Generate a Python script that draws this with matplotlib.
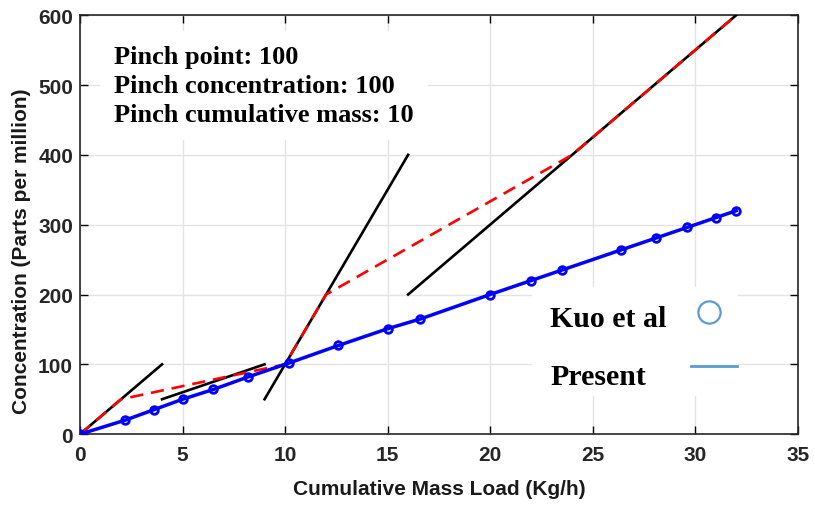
import numpy as np
import matplotlib.pyplot as plt
from matplotlib.patches import Rectangle

# Present / Kuo et al points (cumulative mass vs concentration)
mass_pts = [0, 2.2, 3.6, 5.0, 6.5, 8.2, 10.2, 12.6, 15.0, 16.6, 20.0, 22.0, 23.5, 26.4, 28.1, 29.6, 31.0, 32.0]
conc_pts = [0, 20, 35, 50, 64, 82, 102, 127, 151, 165, 200, 220, 235, 264, 281, 296, 310, 320]

# black supply/demand line segments: (x0, x1), (y0, y1)
seg_x = [(0, 4), (4, 9), (9, 16), (16, 32)]
seg_y = [(0, 100), (50, 100), (50, 400), (200, 600)]

# red dashed composite curve
comp_x = [0, 2, 10, 12, 24, 32]
comp_y = [0, 50, 100, 200, 400, 600]

legend_labels = ['Kuo et al', 'Present']
info_lines = ['Pinch point: 100', 'Pinch concentration: 100', 'Pinch cumulative mass: 10']

plt.rcParams['font.family'] = ['Liberation Sans', 'DejaVu Sans']

fig = plt.figure(figsize=(8.14, 5.06), dpi=100)
ax = fig.add_axes([0.0983, 0.140, 0.8817, 0.828])

ax.grid(True, color='#e3e3e3', linewidth=1.0, zorder=0)
ax.set_axisbelow(True)

for sx, sy in zip(seg_x, seg_y):
    ax.plot(sx, sy, color='black', linewidth=1.9, zorder=3)

ax.plot(comp_x, comp_y, color='red', linestyle=(0, (5, 3)), linewidth=1.9, zorder=4)

ax.plot(mass_pts, conc_pts, color='blue', linewidth=2.5, marker='o', markersize=5.5,
        markerfacecolor='none', markeredgewidth=2, zorder=5)

ax.set_xlim(0, 35)
ax.set_ylim(0, 600)
ax.set_xticks(range(0, 36, 5))
ax.set_yticks(range(0, 601, 100))
ax.tick_params(direction='in', top=True, right=True, length=6, width=1,
               labelsize=15, labelcolor='#262626')
ax.tick_params(axis='x', pad=8)
ax.tick_params(axis='y', pad=5)
for lbl in ax.get_xticklabels() + ax.get_yticklabels():
    lbl.set_fontweight('bold')
for sp in ax.spines.values():
    sp.set_linewidth(1.2)
    sp.set_color('#262626')

ax.set_xlabel('Cumulative Mass Load (Kg/h)', fontsize=15, fontweight='bold', color='#1a1a1a')
ax.set_ylabel('Concentration (Parts per million)', fontsize=15, fontweight='bold', color='#1a1a1a')
ax.xaxis.set_label_coords(0.5, -0.106)
ax.yaxis.set_label_coords(-0.068, 0.439)

ax.text(1.66, 557, '\n'.join(info_lines),
        family='Liberation Serif', fontweight='bold', fontsize=19, va='top', ha='left',
        linespacing=1.32, zorder=6,
        bbox=dict(facecolor='white', edgecolor='none', pad=10))

# legend box drawn by hand so the labels sit left of the symbols
ax.add_patch(Rectangle((0.6295, 0.0907), 0.287, 0.26, transform=ax.transAxes,
                       facecolor='white', edgecolor='none', zorder=7))
ax.text(0.655, 0.258, legend_labels[0], transform=ax.transAxes, family='Liberation Serif',
        fontweight='bold', fontsize=21.5, va='baseline', ha='left', zorder=8)
ax.text(0.655, 0.119, legend_labels[1], transform=ax.transAxes, family='Liberation Serif',
        fontweight='bold', fontsize=21.5, va='baseline', ha='left', zorder=8)
ax.plot([0.876], [0.291], transform=ax.transAxes, linestyle='none', marker='o',
        markersize=16, markerfacecolor='none', markeredgecolor='#5b9bd5',
        markeredgewidth=1.6, zorder=8, clip_on=False)
ax.plot([0.852, 0.916], [0.162, 0.162], transform=ax.transAxes, color='#5b9bd5',
        linewidth=2, zorder=8, clip_on=False)

fig.savefig('out.png', dpi=100)
